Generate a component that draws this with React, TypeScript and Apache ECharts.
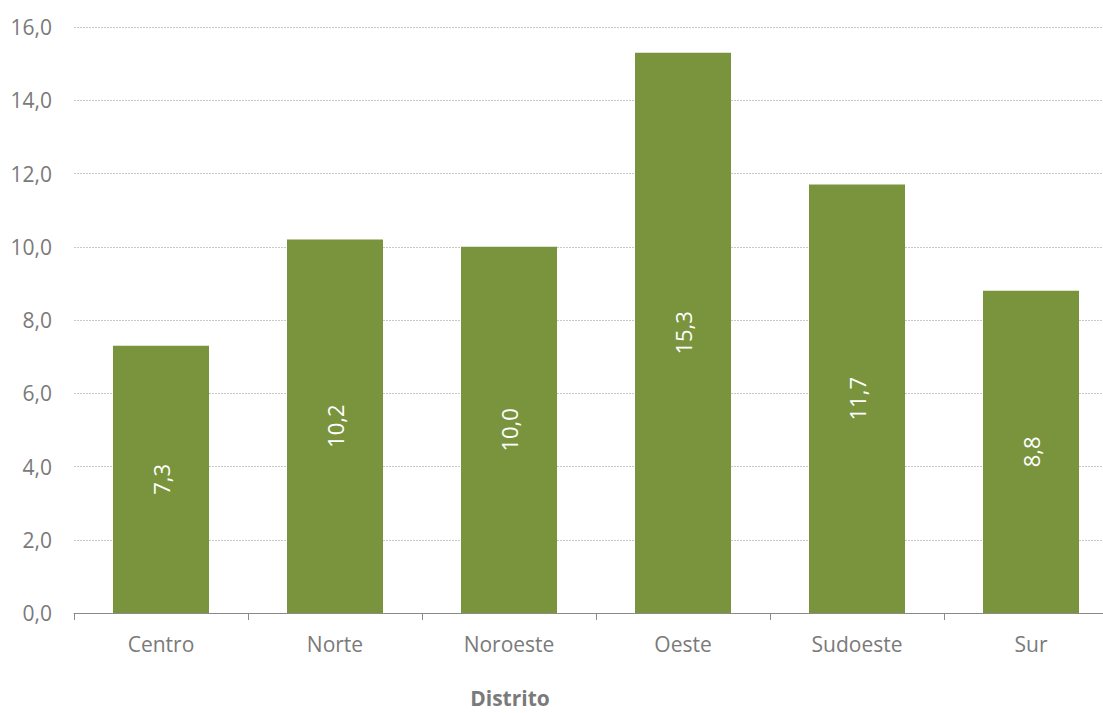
import React, { useEffect, useRef } from "react";
import * as echarts from "echarts";

const categories = ["Centro", "Norte", "Noroeste", "Oeste", "Sudoeste", "Sur"];
const values = [7.3, 10.2, 10.0, 15.3, 11.7, 8.8];
const axisTitle = "Distrito";

const fmt = (v: number) => v.toFixed(1).replace(".", ",");

export default function App() {
  const ref = useRef<HTMLDivElement>(null);
  useEffect(() => {
    if (!ref.current) return;
    const chart = echarts.init(ref.current, null, { renderer: "svg" });
    const font = "'Open Sans', 'Noto Sans', sans-serif";
    chart.setOption({
      animation: false,
      textStyle: { fontFamily: font },
      grid: { left: 74, top: 27, width: 1044, height: 586, containLabel: false },
      xAxis: {
        type: "category",
        data: categories,
        axisLine: { lineStyle: { color: "#8a8a8a", width: 1 } },
        axisTick: { show: true, length: 7, lineStyle: { color: "#8a8a8a" } },
        axisLabel: { color: "#7a7a7a", fontSize: 21, margin: 20, fontFamily: font },
      },
      yAxis: {
        type: "value",
        min: 0,
        max: 16,
        interval: 2,
        axisLine: { show: false },
        axisTick: { show: false },
        axisLabel: {
          color: "#7a7a7a",
          fontSize: 21,
          margin: 22,
          fontFamily: font,
          formatter: (v: number) => fmt(v),
        },
        splitLine: { lineStyle: { color: "#c8c8c8", type: [2, 1], width: 1 } },
      },
      series: [
        {
          type: "bar",
          data: values,
          barWidth: 96,
          itemStyle: { color: "#79943d" },
          label: {
            show: true,
            position: "inside",
            rotate: 90,
            color: "#ffffff",
            fontSize: 22,
            fontFamily: font,
            formatter: (p: any) => fmt(p.value),
          },
        },
      ],
      graphic: [
        {
          type: "text",
          x: 510,
          y: 698,
          style: {
            text: axisTitle,
            fill: "#7a7a7a",
            font: `bold 21px ${font}`,
            textAlign: "center",
            textVerticalAlign: "middle",
          },
        },
      ],
    });
    return () => chart.dispose();
  }, []);
  return (
    <div style={{ position: "fixed", left: 0, top: 0, width: 1103, height: 713, overflow: "hidden", background: "#fff" }}>
      <div ref={ref} style={{ width: 1140, height: 713 }} />
    </div>
  );
}
